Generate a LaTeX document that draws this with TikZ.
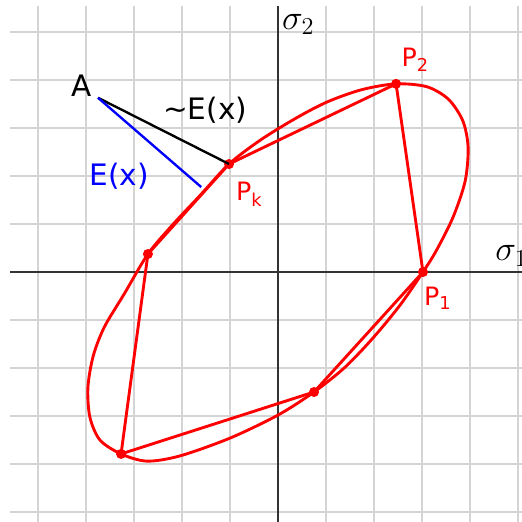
\documentclass[tikz,border=0pt]{standalone}
\usepackage{fontspec}
\setmainfont{DejaVu Sans}
\usepackage{tikz}
\usetikzlibrary{positioning}
\definecolor{gridgray}{HTML}{D4D4D4}

\begin{document}
\begin{tikzpicture}[
  dot/.style={circle, fill=red, inner sep=0pt, minimum size=0.21cm},
  chord/.style={red, line width=1.7pt, line join=round},
  curve/.style={red, line width=1.7pt},
  lbl/.style={font=\fontsize{15}{18}\selectfont, text=red, inner sep=1pt},
  big/.style={font=\fontsize{17.5}{20}\selectfont, inner sep=1pt}
]
  \useasboundingbox (-5.792,-5.208) rectangle (5.083,5.667);
  \fill[white] (-5.792,-5.208) rectangle (5.083,5.667);

  % grid and axes
  \draw[gridgray, line width=0.9pt] (-5.583,-5.3) grid (5.2,5.542);
  \draw[black!80, line width=0.7pt] (-5.583,0) -- (5.2,0);
  \draw[black!80, line width=0.7pt] (0,5.542) -- (0,-5.3);
  \node[font=\fontsize{20}{24}\selectfont, anchor=base west, inner sep=0pt] (s2) at (0.08,5.05) {$\sigma_2$};
  \node[font=\fontsize{20}{24}\selectfont, anchor=base west, inner sep=0pt] (s1) at (4.52,0.23) {$\sigma_1$};

  % vertices
  \node[dot] (p2) at (2.46,3.92) {};
  \node[dot] (p1) at (3.02,0) {};
  \node[dot] (pb) at (0.75,-2.5) {};
  \node[dot] (pbl) at (-3.27,-3.79) {};
  \node[dot] (pl) at (-2.71,0.375) {};
  \node[dot] (pk) at (-1.02,2.25) {};

  % the closed curve
  \draw[curve] plot[smooth cycle, tension=0.5] coordinates {
    (2.46,3.92) (3.1,3.86) (3.55,3.6) (3.85,3.15) (3.96,2.6)
    (3.9,1.9) (3.65,1.15) (3.3,0.45) (3.02,0) (2.55,-0.68)
    (2.0,-1.35) (1.4,-1.98) (0.75,-2.5) (0,-2.98) (-1.0,-3.46)
    (-2.04,-3.83) (-2.73,-3.94) (-3.27,-3.79) (-3.71,-3.5) (-3.92,-3.02)
    (-3.96,-2.4) (-3.85,-1.75) (-3.62,-1.15) (-3.2,-0.45)
    (-2.71,0.375) (-2.2,0.98) (-1.62,1.6) (-1.02,2.25) (-0.35,2.76)
    (0.4,3.22) (1.04,3.55) (1.75,3.8)};

  % polygon
  \draw[chord] (p2.center) -- (p1.center) -- (pb.center) -- (pbl.center)
    -- (pl.center) -- (pk.center) -- cycle;

  \node[lbl] (l2) at (2.86,4.42) {P\textsubscript{2}};
  \node[lbl] (l1) at (3.33,-0.55) {P\textsubscript{1}};
  \node[lbl] (lk) at (-0.6,1.62) {P\textsubscript{k}};

  % distances from A
  \node[big] (a) at (-4.1,3.88) {A};
  \coordinate (as) at (-3.75,3.63);
  \coordinate (foot) at (-1.6,1.77);
  \draw[black, line width=1.4pt] (as) -- (pk.center);
  \draw[blue, line width=1.4pt] (as) -- (foot);
  \node[big] (approx) at (-1.52,3.38) {\textasciitilde E(x)};
  \node[big, text=blue] (exact) at (-3.31,2.0) {E(x)};
\end{tikzpicture}
\end{document}
